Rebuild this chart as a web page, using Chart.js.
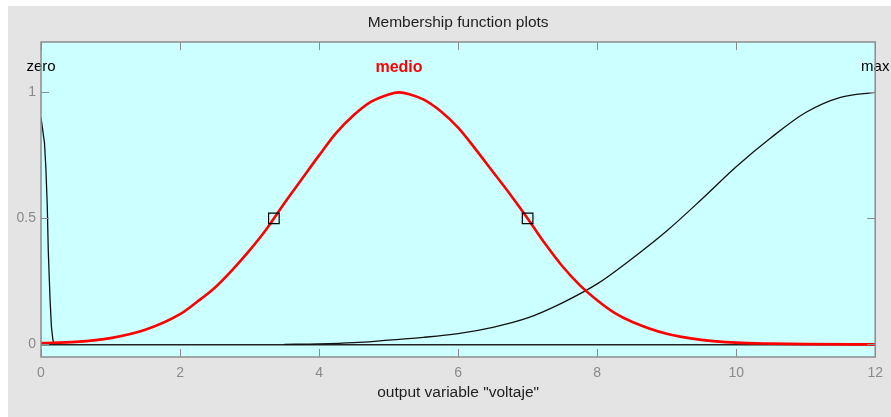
<!DOCTYPE html>
<html>
<head>
<meta charset="utf-8">
<script src="https://cdn.jsdelivr.net/npm/chart.js@4/dist/chart.umd.min.js"></script>
<style>
  html, body { margin: 0; padding: 0; background: #fff; }
  #wrap { width: 891px; height: 417px; position: relative; }
</style>
</head>
<body>
<div id="wrap"><canvas id="mfChart"></canvas></div>
<script>
/* ─── Membership function plots ─────────────────────────────── */

const medioX = [0, 0.5, 1, 1.5, 2, 2.25, 2.5, 2.75, 3, 3.25, 3.5, 3.75, 4, 4.25, 4.5, 4.75, 5, 5.15, 5.3, 5.5, 5.75, 6, 6.25, 6.5, 6.75, 7, 7.25, 7.5, 7.75, 8, 8.25, 8.5, 9, 9.5, 10, 10.5, 11, 12];
const medioY = [0.005, 0.01, 0.025, 0.058, 0.12, 0.17, 0.225, 0.295, 0.373, 0.46, 0.56, 0.655, 0.75, 0.84, 0.91, 0.963, 0.992, 1.0, 0.993, 0.972, 0.925, 0.86, 0.775, 0.685, 0.595, 0.50, 0.40, 0.31, 0.235, 0.175, 0.125, 0.09, 0.042, 0.018, 0.007, 0.003, 0.001, 0];

const zeroX = [0, 0.05, 0.07, 0.09, 0.105, 0.13, 0.15, 0.17, 0.19];
const zeroY = [0.9, 0.8, 0.7, 0.55, 0.37, 0.18, 0.07, 0.02, 0];

const maxX = [3.5, 4, 4.5, 5, 5.5, 6, 6.5, 7, 7.5, 8, 8.5, 9, 9.5, 10, 10.5, 11, 11.5, 12];
const maxY = [0, 0.002, 0.007, 0.017, 0.028, 0.043, 0.068, 0.105, 0.165, 0.24, 0.34, 0.45, 0.575, 0.705, 0.82, 0.92, 0.98, 1.0];

// crossover markers of the selected MF
const markerX = [3.35, 7.0];
const markerY = [0.5, 0.5];

// MF names and where they are written
const mfNames  = ['zero', 'medio', 'max'];
const mfLabelX = [0, 5.15, 12];
const mfLabelY = 1.1;
const selectedMf = 'medio';

const xTicks = [0, 2, 4, 6, 8, 10, 12];
const yTicks = [0, 0.5, 1];

const titleText  = 'Membership function plots';
const xLabelText = 'output variable "voltaje"';

const FONT = '"Liberation Sans", Arial, sans-serif';

function pts(xs, ys) {
  return xs.map((x, i) => ({ x, y: ys[i] }));
}

// ── Frame, backgrounds and inward ticks ──
const matlabLook = {
  id: 'matlabLook',
  beforeDraw(chart) {
    const { ctx, chartArea: a, width, height } = chart;
    ctx.save();
    ctx.fillStyle = '#ffffff';
    ctx.fillRect(0, 0, width, height);
    ctx.fillStyle = '#e4e4e4';
    ctx.fillRect(8, 6, width - 8, height - 6);
    ctx.fillStyle = '#ccffff';
    ctx.fillRect(a.left, a.top, a.right - a.left, a.bottom - a.top);
    ctx.restore();
  },
  afterDraw(chart) {
    const { ctx, chartArea: a, scales } = chart;
    ctx.save();
    ctx.strokeStyle = '#8c8c8c';
    ctx.lineWidth = 1.5;
    ctx.strokeRect(a.left, a.top, a.right - a.left, a.bottom - a.top);

    ctx.lineWidth = 1;
    ctx.beginPath();
    xTicks.forEach(v => {
      const px = Math.round(scales.x.getPixelForValue(v)) + 0.5;
      ctx.moveTo(px, a.bottom); ctx.lineTo(px, a.bottom - 8);
      ctx.moveTo(px, a.top);    ctx.lineTo(px, a.top + 8);
    });
    yTicks.forEach(v => {
      const py = Math.round(scales.y.getPixelForValue(v)) + 0.5;
      ctx.moveTo(a.left, py);  ctx.lineTo(a.left + 8, py);
      ctx.moveTo(a.right, py); ctx.lineTo(a.right - 8, py);
    });
    ctx.stroke();

    // title + x label
    ctx.fillStyle = '#1e1e1e';
    ctx.textAlign = 'center';
    ctx.textBaseline = 'middle';
    ctx.font = '15.5px ' + FONT;
    const cx = (a.left + a.right) / 2;
    ctx.fillText(titleText, cx, 23);
    ctx.fillText(xLabelText, cx, 393);
    ctx.restore();
  },
  afterDatasetsDraw(chart) {
    const { ctx, scales } = chart;
    ctx.save();
    ctx.textAlign = 'center';
    ctx.textBaseline = 'middle';
    mfNames.forEach((name, i) => {
      const sel = name === selectedMf;
      ctx.font = (sel ? 'bold 16px ' : '15px ') + FONT;
      ctx.fillStyle = sel ? '#ff0000' : '#000000';
      ctx.fillText(name, scales.x.getPixelForValue(mfLabelX[i]), scales.y.getPixelForValue(mfLabelY));
    });
    ctx.restore();
  }
};

new Chart(document.getElementById('mfChart'), {
  type: 'line',
  data: {
    datasets: [
      {
        type: 'scatter',
        label: 'markers',
        data: pts(markerX, markerY),
        pointStyle: 'rect',
        pointRadius: 7.5,
        backgroundColor: 'rgba(0,0,0,0)',
        borderColor: '#000',
        borderWidth: 1.2,
      },
      {
        label: 'medio',
        data: pts(medioX, medioY),
        borderColor: '#ff0000',
        borderWidth: 2.6,
        pointRadius: 0,
        cubicInterpolationMode: 'monotone',
      },
      {
        label: 'zero',
        data: pts(zeroX, zeroY),
        borderColor: '#111',
        borderWidth: 1.3,
        pointRadius: 0,
        tension: 0,
      },
      {
        label: 'max',
        data: pts(maxX, maxY),
        borderColor: '#111',
        borderWidth: 1.3,
        pointRadius: 0,
        cubicInterpolationMode: 'monotone',
      }
    ]
  },
  options: {
    responsive: true,
    maintainAspectRatio: false,
    animation: false,
    layout: { padding: { left: 0, top: 42, right: 14, bottom: 0 } },
    plugins: {
      legend: { display: false },
      tooltip: { enabled: false },
    },
    scales: {
      x: {
        type: 'linear',
        min: 0,
        max: 12,
        afterBuildTicks: s => { s.ticks = xTicks.map(v => ({ value: v })); },
        afterFit: s => { s.height = 60; },
        grid: { display: false, drawTicks: false },
        border: { display: false },
        ticks: { padding: 8, color: '#8a8a8a', font: { size: 14, family: FONT } }
      },
      y: {
        min: -0.05,
        max: 1.2,
        afterBuildTicks: s => { s.ticks = yTicks.map(v => ({ value: v })); },
        afterFit: s => { s.width = 41; },
        grid: {
          drawTicks: false,
          lineWidth: 1.5,
          color: c => c.tick && c.tick.value === 0 ? '#222' : 'rgba(0,0,0,0)'
        },
        border: { display: false },
        ticks: {
          padding: 5, color: '#8a8a8a', font: { size: 14, family: FONT },
          callback: v => String(v)
        }
      }
    }
  },
  plugins: [matlabLook]
});
</script>
</body>
</html>
